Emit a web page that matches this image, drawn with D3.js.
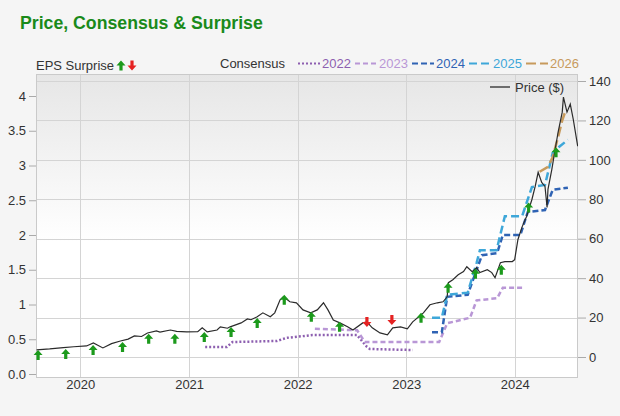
<!DOCTYPE html>
<html>
<head>
<meta charset="utf-8">
<script src="https://cdn.jsdelivr.net/npm/d3@7"></script>
<style>
  body { margin: 0; background: #f5f5f5; }
  svg { display: block; font-family: "Liberation Sans", Arial, sans-serif; }
</style>
</head>
<body>
<svg id="chart" width="620" height="416"></svg>
<script>
// price, right axis ($)
const price = [
  ['2019-08-07', 3.6], ['2019-09-20', 4.1], ['2019-11-05', 4.8], ['2019-12-10', 5.2],
  ['2020-01-22', 5.6], ['2020-02-14', 7.1], ['2020-03-17', 4.6], ['2020-04-15', 6.8],
  ['2020-05-15', 8.1], ['2020-06-10', 9.1], ['2020-07-01', 10.7], ['2020-07-25', 10.4],
  ['2020-08-14', 12.2], ['2020-09-13', 13.2], ['2020-09-25', 12.6], ['2020-10-30', 13.7],
  ['2020-11-20', 13.0], ['2020-12-24', 12.7], ['2021-01-30', 12.8], ['2021-02-14', 14.8],
  ['2021-03-03', 12.7], ['2021-04-05', 13.7], ['2021-04-16', 15.3], ['2021-05-10', 14.6],
  ['2021-05-19', 15.3], ['2021-06-25', 17.3], ['2021-07-16', 19.3], ['2021-07-28', 18.9],
  ['2021-08-18', 20.4], ['2021-09-06', 22.4], ['2021-10-01', 20.4], ['2021-10-16', 22.4],
  ['2021-11-03', 29.0], ['2021-11-14', 30.5], ['2021-11-24', 29.4], ['2021-12-06', 28.0],
  ['2021-12-28', 27.5], ['2022-01-19', 23.9], ['2022-02-14', 22.4], ['2022-03-08', 23.9],
  ['2022-03-29', 27.5], ['2022-04-13', 23.9], ['2022-05-01', 18.8], ['2022-05-23', 17.3],
  ['2022-06-18', 15.3], ['2022-07-06', 13.7], ['2022-08-08', 17.3], ['2022-08-22', 17.8],
  ['2022-09-09', 14.8], ['2022-10-05', 12.2], ['2022-10-30', 11.2], ['2022-11-17', 14.8],
  ['2022-12-13', 15.3], ['2023-01-05', 14.3], ['2023-01-23', 17.8], ['2023-02-28', 22.4],
  ['2023-03-22', 26.5], ['2023-04-16', 27.5], ['2023-05-05', 28.0], ['2023-05-19', 30.5],
  ['2023-05-23', 37.7], ['2023-06-07', 39.2], ['2023-06-25', 41.7], ['2023-07-13', 43.3],
  ['2023-07-24', 45.8], ['2023-08-11', 43.3], ['2023-08-26', 45.3], ['2023-09-06', 42.8],
  ['2023-10-01', 44.3], ['2023-10-16', 42.8], ['2023-10-27', 40.2], ['2023-11-14', 47.8],
  ['2023-11-29', 48.4], ['2023-12-24', 48.4], ['2024-01-01', 49.4], ['2024-01-12', 59.6],
  ['2024-01-26', 66.0], ['2024-02-10', 71.3], ['2024-02-28', 79.9], ['2024-03-10', 86.5],
  ['2024-03-20', 93.7], ['2024-04-01', 88.6], ['2024-04-12', 86.5], ['2024-04-19', 75.8],
  ['2024-04-22', 85.0], ['2024-05-05', 95.2], ['2024-05-15', 104.3], ['2024-05-26', 114.0],
  ['2024-06-09', 124.2], ['2024-06-13', 131.8], ['2024-06-25', 124.2], ['2024-07-06', 128.3],
  ['2024-07-16', 120.6], ['2024-07-31', 106.9]
];

// consensus EPS, left axis
const cons2022 = [
  ['2021-02-24', 0.39], ['2021-05-08', 0.39], ['2021-05-27', 0.46], ['2021-10-23', 0.475],
  ['2021-11-25', 0.52], ['2022-02-20', 0.56], ['2022-07-20', 0.56], ['2022-08-22', 0.39],
  ['2022-09-01', 0.36], ['2023-01-23', 0.345]
];
const cons2023 = [
  ['2022-02-28', 0.65], ['2022-07-20', 0.63], ['2022-08-15', 0.46], ['2023-04-22', 0.46],
  ['2023-05-19', 0.73], ['2023-08-04', 0.81], ['2023-08-26', 1.06], ['2023-11-03', 1.09],
  ['2023-11-22', 1.24], ['2024-01-26', 1.24]
];
const cons2024 = [
  ['2023-03-29', 0.60], ['2023-05-01', 0.60], ['2023-05-19', 1.11], ['2023-07-27', 1.14],
  ['2023-08-26', 1.50], ['2023-09-13', 1.71], ['2023-11-03', 1.74], ['2023-11-22', 2.0],
  ['2024-01-20', 2.0], ['2024-02-14', 2.33], ['2024-04-12', 2.36], ['2024-05-08', 2.65],
  ['2024-06-28', 2.68]
];
const cons2025 = [
  ['2023-03-29', 0.81], ['2023-05-01', 0.81], ['2023-05-19', 1.14], ['2023-07-27', 1.17],
  ['2023-08-26', 1.60], ['2023-09-06', 1.78], ['2023-11-01', 1.78], ['2023-11-29', 2.27],
  ['2024-01-26', 2.27], ['2024-02-28', 2.69], ['2024-04-12', 2.72], ['2024-05-08', 3.18],
  ['2024-05-30', 3.27], ['2024-06-28', 3.37]
];
const cons2026 = [
  ['2024-03-25', 2.91], ['2024-04-22', 2.98], ['2024-05-08', 3.12], ['2024-05-26', 3.41],
  ['2024-06-09', 3.65], ['2024-06-18', 3.76]
];

// EPS surprise arrows, placed at price level ($)
const surpriseDates = [
  '2019-08-12', '2019-11-13', '2020-02-13', '2020-05-22', '2020-08-18', '2020-11-14',
  '2021-02-21', '2021-05-22', '2021-08-18', '2021-11-17', '2022-02-16', '2022-05-22',
  '2022-08-22', '2022-11-14', '2023-02-20', '2023-05-22', '2023-08-22', '2023-11-17',
  '2024-02-17', '2024-05-19'
];
const surpriseLevel = [
  1.0, 1.5, 3.6, 5.1, 9.2, 9.2, 10.2, 12.7, 17.3, 29.0, 20.4, 15.3,
  17.8, 18.8, 19.9, 35.1, 42.2, 44.3, 75.8, 103.8
];
const surpriseSign = [
  1, 1, 1, 1, 1, 1, 1, 1, 1, 1, 1, 1, -1, -1, 1, 1, 1, 1, 1, 1
];

const epsTicks = [0, 0.5, 1, 1.5, 2, 2.5, 3, 3.5, 4];
const priceTicks = [0, 20, 40, 60, 80, 100, 120, 140];
const yearTicks = ['2020-01-01', '2021-01-01', '2022-01-01', '2023-01-01', '2024-01-01'];

const series = [
  { name: '2022', data: cons2022, color: '#8d5fb0', dash: '2,2' },
  { name: '2023', data: cons2023, color: '#b997d6', dash: '5,3' },
  { name: '2024', data: cons2024, color: '#2f63b4', dash: '6,3' },
  { name: '2025', data: cons2025, color: '#3ea7d9', dash: '8,4' },
  { name: '2026', data: cons2026, color: '#c79a5c', dash: '10,4' }
];

const parse = d3.timeParse('%Y-%m-%d');
const svg = d3.select('#chart');

const plotL = 36, plotR = 578, plotT = 74, plotB = 378;
const green = '#1c9a1c', red = '#e52222', textColor = '#333';

const x = d3.scaleTime()
  .domain([parse('2019-08-05'), parse('2024-08-01')])
  .range([plotL, plotR]);
const yL = d3.scaleLinear().domain([0, 4]).range([374, 96]);
const yR = d3.scaleLinear().domain([0, 140]).range([357, 81]);

// background gradient of plot
const defs = svg.append('defs');
const grad = defs.append('linearGradient')
  .attr('id', 'bg').attr('x1', 0).attr('y1', 0).attr('x2', 0).attr('y2', 1);
grad.append('stop').attr('offset', '0%').attr('stop-color', '#e6e6e6');
grad.append('stop').attr('offset', '55%').attr('stop-color', '#ffffff');
grad.append('stop').attr('offset', '100%').attr('stop-color', '#ffffff');
defs.append('clipPath').attr('id', 'clip')
  .append('rect').attr('x', plotL).attr('y', plotT)
  .attr('width', plotR - plotL).attr('height', plotB - plotT);

svg.append('rect')
  .attr('x', plotL).attr('y', plotT)
  .attr('width', plotR - plotL).attr('height', plotB - plotT)
  .attr('fill', 'url(#bg)');

// title
svg.append('text')
  .attr('x', 20).attr('y', 29)
  .attr('fill', '#1a8a1a')
  .style('font-size', '17.7px').style('font-weight', 'bold')
  .text('Price, Consensus & Surprise');

// grid
const grid = svg.append('g').attr('stroke', '#d4d4d4').attr('stroke-width', 1);
grid.selectAll('.h').data(priceTicks).join('line')
  .attr('x1', plotL).attr('x2', plotR)
  .attr('y1', d => Math.round(yR(d)) + 0.5).attr('y2', d => Math.round(yR(d)) + 0.5);
grid.selectAll('.v').data(yearTicks).join('line')
  .attr('x1', d => Math.round(x(parse(d))) + 0.5).attr('x2', d => Math.round(x(parse(d))) + 0.5)
  .attr('y1', plotT).attr('y2', plotB);

svg.append('rect')
  .attr('x', plotL + 0.5).attr('y', plotT + 0.5)
  .attr('width', plotR - plotL - 1).attr('height', plotB - plotT - 1)
  .attr('fill', 'none').attr('stroke', '#cacaca');

// axes
function styleAxis(g) {
  g.select('.domain').remove();
  g.selectAll('.tick line').attr('stroke', '#aaa');
  g.selectAll('.tick text').attr('fill', textColor).style('font-size', '13px');
}
svg.append('g')
  .attr('transform', `translate(${plotL},0)`)
  .call(d3.axisLeft(yL).tickValues(epsTicks).tickSize(7).tickPadding(3)
    .tickFormat(d => d === 0 ? '0.0' : String(d)))
  .call(styleAxis);
svg.append('g')
  .attr('transform', `translate(${plotR},0)`)
  .call(d3.axisRight(yR).tickValues(priceTicks).tickSize(8).tickPadding(3))
  .call(styleAxis);
svg.append('g')
  .attr('transform', `translate(0,${plotB})`)
  .call(d3.axisBottom(x).tickValues(yearTicks.map(parse)).tickSize(0).tickPadding(2)
    .tickFormat(d3.timeFormat('%Y')))
  .call(styleAxis);

const plot = svg.append('g').attr('clip-path', 'url(#clip)');

// consensus lines
const consLine = d3.line().x(d => x(parse(d[0]))).y(d => yL(d[1]));
plot.selectAll('.cons').data(series).join('path')
  .attr('d', d => consLine(d.data))
  .attr('fill', 'none')
  .attr('stroke', d => d.color)
  .attr('stroke-width', 2.5)
  .attr('stroke-dasharray', d => d.dash);

// price line
const priceLine = d3.line().x(d => x(parse(d[0]))).y(d => yR(d[1]));
plot.append('path')
  .attr('d', priceLine(price))
  .attr('fill', 'none')
  .attr('stroke', '#2b2b2b')
  .attr('stroke-width', 1.2);

// arrows
function arrowPath(cx, cy, dir) {
  // dir 1 = up, -1 = down; head 5px, stem 5px
  const tip = cy - 5 * dir, base = cy, end = cy + 5 * dir;
  return `M${cx},${tip} L${cx + 4.5},${base} L${cx + 1.6},${base}` +
    ` L${cx + 1.6},${end} L${cx - 1.6},${end} L${cx - 1.6},${base}` +
    ` L${cx - 4.5},${base} Z`;
}
svg.append('g').selectAll('path').data(surpriseDates).join('path')
  .attr('d', (d, i) => arrowPath(x(parse(d)), yR(surpriseLevel[i]), surpriseSign[i]))
  .attr('fill', (d, i) => surpriseSign[i] > 0 ? green : red);

// legend row
const leg = svg.append('g').style('font-size', '13px');
leg.append('text').attr('x', 36).attr('y', 70).attr('fill', textColor).text('EPS Surprise');
leg.append('path').attr('d', arrowPath(121, 65.5, 1)).attr('fill', green);
leg.append('path').attr('d', arrowPath(132, 65.5, -1)).attr('fill', red);

leg.append('text').attr('x', 220).attr('y', 68).attr('fill', textColor).text('Consensus');
let lx = 298;
series.forEach(s => {
  leg.append('line')
    .attr('x1', lx).attr('x2', lx + 22).attr('y1', 63.5).attr('y2', 63.5)
    .attr('stroke', s.color).attr('stroke-width', 2.2).attr('stroke-dasharray', s.dash);
  leg.append('text').attr('x', lx + 24).attr('y', 68).attr('fill', s.color).text(s.name);
  lx += 57;
});

// price legend
svg.append('line')
  .attr('x1', 490).attr('x2', 510).attr('y1', 87).attr('y2', 87)
  .attr('stroke', '#444').attr('stroke-width', 1.5);
svg.append('text')
  .attr('x', 515).attr('y', 91.5)
  .attr('fill', textColor).style('font-size', '13px')
  .text('Price ($)');
</script>
</body>
</html>
